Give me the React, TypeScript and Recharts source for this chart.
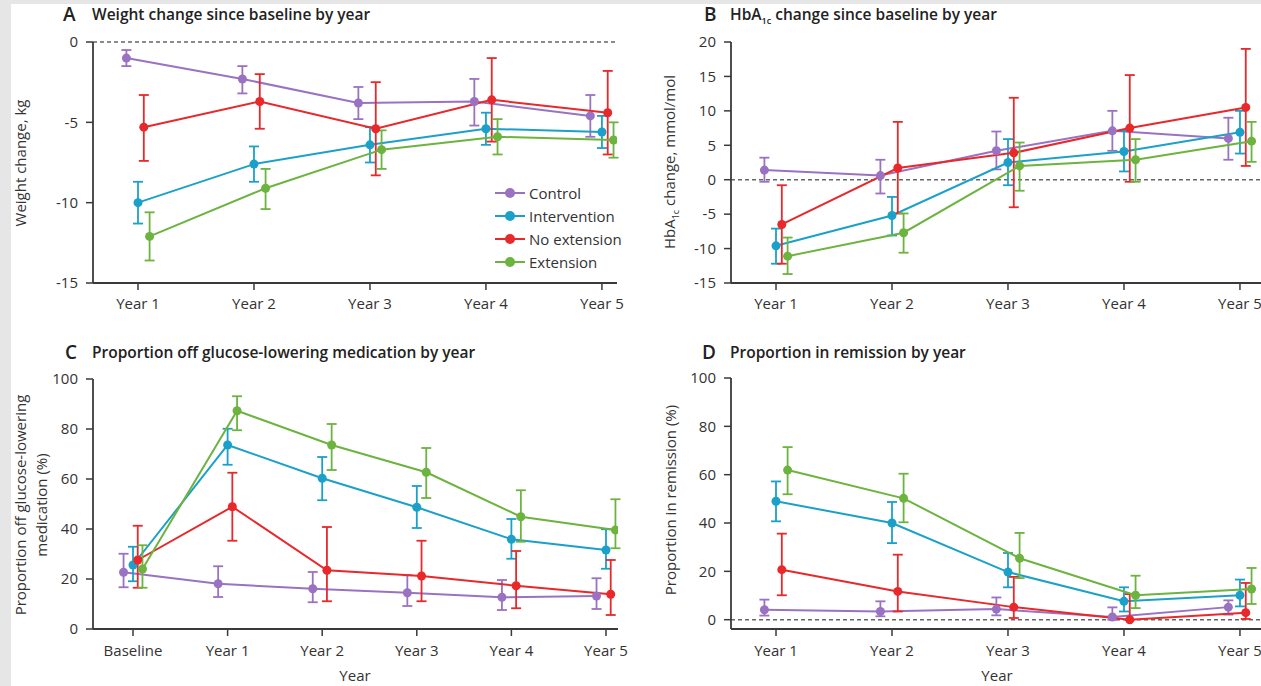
import React from 'react';
import { LineChart, Line, XAxis, YAxis, ErrorBar, ReferenceLine } from 'recharts';

const SERIES = ['Control', 'Intervention', 'No extension', 'Extension'];
const COLORS = ['#9a72c2', '#1ba1c9', '#e8282b', '#6cb33f'];
const DODGE = [-0.1, 0, 0.05, 0.1];

const yearsAB = [1, 2, 3, 4, 5];
const yearsC = [0, 1, 2, 3, 4, 5];
const yearLabels: Record<number, string> = { 0: 'Baseline', 1: 'Year 1', 2: 'Year 2', 3: 'Year 3', 4: 'Year 4', 5: 'Year 5' };

// [mean, lower CI, upper CI]
// Panel A: weight change (kg)
const weightControl = [[-1.0, -1.5, -0.5], [-2.3, -3.2, -1.5], [-3.8, -4.8, -2.8], [-3.7, -5.2, -2.3], [-4.6, -5.9, -3.3]];
const weightIntervention = [[-10.0, -11.3, -8.7], [-7.6, -8.7, -6.5], [-6.4, -7.5, -5.3], [-5.4, -6.4, -4.4], [-5.6, -6.6, -4.6]];
const weightNoExt = [[-5.3, -7.4, -3.3], [-3.7, -5.4, -2.0], [-5.4, -8.3, -2.5], [-3.6, -6.2, -1.0], [-4.4, -7.0, -1.8]];
const weightExt = [[-12.1, -13.6, -10.6], [-9.1, -10.4, -7.9], [-6.7, -7.9, -5.5], [-5.9, -7.0, -4.8], [-6.1, -7.2, -5.0]];

// Panel B: HbA1c change (mmol/mol)
const hbControl = [[1.4, -0.3, 3.2], [0.6, -2.0, 2.9], [4.2, 1.5, 7.0], [7.1, 4.2, 10.0], [6.0, 2.9, 9.0]];
const hbIntervention = [[-9.6, -12.2, -7.1], [-5.2, -8.1, -2.5], [2.5, -0.8, 5.9], [4.1, 1.2, 7.1], [6.9, 3.8, 10.0]];
const hbNoExt = [[-6.5, -12.2, -0.8], [1.7, -4.9, 8.4], [3.9, -4.0, 11.9], [7.5, -0.3, 15.2], [10.5, 2.0, 19.0]];
const hbExt = [[-11.1, -13.7, -8.4], [-7.7, -10.6, -4.9], [2.0, -1.6, 5.4], [2.9, -0.3, 5.9], [5.6, 2.6, 8.4]];

// Panel C: proportion off glucose-lowering medication (%)
const medControl = [[22.7, 16.7, 30.1], [18.1, 12.8, 25.1], [16.1, 10.7, 22.8], [14.5, 9.2, 21.5], [12.7, 7.6, 19.6], [13.2, 8.0, 20.3]];
const medIntervention = [[25.6, 19.1, 32.9], [73.6, 65.7, 80.1], [60.3, 51.5, 68.8], [48.7, 40.4, 57.2], [35.9, 28.1, 44.0], [31.6, 24.1, 39.9]];
const medNoExt = [[27.6, 16.5, 41.3], [48.9, 35.3, 62.5], [23.5, 11.1, 40.8], [21.2, 11.1, 35.3], [17.3, 8.3, 31.2], [13.9, 5.6, 27.6]];
const medExt = [[24.0, 16.5, 33.5], [87.3, 79.5, 93.1], [73.6, 63.6, 82.0], [62.7, 52.4, 72.4], [44.9, 34.9, 55.5], [39.6, 32.3, 51.9]];

// Panel D: proportion in remission (%)
const remControl = [[4.1, 1.7, 8.3], [3.4, 1.4, 7.6], [4.4, 1.8, 9.2], [1.1, 0, 5.1], [5.2, 2.1, 8.0]];
const remIntervention = [[49.0, 40.7, 57.2], [40.0, 31.7, 48.7], [19.7, 13.4, 27.6], [7.6, 3.4, 13.4], [10.1, 5.5, 16.6]];
const remNoExt = [[20.7, 10.1, 35.6], [11.7, 3.4, 26.9], [5.2, 0.7, 17.7], [0, 0, 10.6], [2.9, 0.3, 15.2]];
const remExt = [[61.9, 51.9, 71.4], [50.2, 40.3, 60.4], [25.4, 17.2, 35.9], [10.1, 4.8, 18.2], [12.7, 6.5, 21.4]];

const yTicksA = [0, -5, -10, -15];
const yTicksB = [20, 15, 10, 5, 0, -5, -10, -15];
const yTicksCD = [0, 20, 40, 60, 80, 100];

const FONT = '"Open Sans", "Noto Sans", sans-serif';
const AXIS = '#3a3a3a';
const TEXT = '#333';

function build(series: number[][][], years: number[]) {
  return series.map((vals, i) =>
    vals.map(([m, lo, hi], j) => ({ x: years[j] + DODGE[i], y: m, err: [m - lo, hi - m] }))
  );
}

const LegendBox = ({ left, top }: { left: number; top: number }) => (
  <div style={{ position: 'absolute', left, top, fontFamily: FONT, fontSize: 15, color: TEXT }}>
    {SERIES.map((s, i) => (
      <div key={s} style={{ display: 'flex', alignItems: 'center', height: 23 }}>
        <svg width={30} height={12} style={{ marginRight: 4 }}>
          <line x1={0} y1={6} x2={30} y2={6} stroke={COLORS[i]} strokeWidth={2} />
          <circle cx={15} cy={6} r={5} fill={COLORS[i]} />
        </svg>
        <span>{s}</span>
      </div>
    ))}
  </div>
);

type PanelProps = {
  left: number; top: number; width: number; height: number;
  margin: { top: number; right: number; bottom: number; left: number };
  yAxisWidth: number; xAxisHeight: number;
  xDomain: [number, number]; xTicks: number[];
  yDomain: [number, number]; yTicks: number[];
  data: { x: number; y: number; err: number[] }[][];
  zeroLine?: boolean; tickMarginX: number;
};

const Panel = (p: PanelProps) => (
  <div style={{ position: 'absolute', left: p.left, top: p.top }}>
    <LineChart width={p.width} height={p.height} margin={p.margin}>
      <XAxis
        type="number" dataKey="x" domain={p.xDomain} ticks={p.xTicks} allowDataOverflow
        tickFormatter={(v: number) => yearLabels[v]} height={p.xAxisHeight}
        axisLine={{ stroke: AXIS, strokeWidth: 1.8 }} tickLine={{ stroke: AXIS, strokeWidth: 1.5 }}
        tickSize={7} tickMargin={p.tickMarginX}
        tick={{ fill: TEXT, fontSize: 15, fontFamily: FONT }} interval={0}
      />
      <YAxis
        type="number" domain={p.yDomain} ticks={p.yTicks} allowDataOverflow width={p.yAxisWidth}
        axisLine={{ stroke: AXIS, strokeWidth: 1.8 }} tickLine={{ stroke: AXIS, strokeWidth: 1.5 }}
        tickSize={7} tickMargin={8} interval={0}
        tick={{ fill: TEXT, fontSize: 15, fontFamily: FONT }}
      />
      {p.zeroLine && <ReferenceLine y={0} stroke="#666" strokeDasharray="4 3" strokeWidth={1.5} />}
      {p.data.map((d, i) => (
        <Line
          key={SERIES[i]} name={SERIES[i]} data={d} dataKey="y" stroke={COLORS[i]} strokeWidth={2}
          dot={{ r: 4.5, fill: COLORS[i], stroke: COLORS[i], strokeWidth: 0 }} activeDot={false}
          isAnimationActive={false}
        >
          <ErrorBar dataKey="err" direction="y" width={5} stroke={COLORS[i]} strokeWidth={1.8} isAnimationActive={false} />
        </Line>
      ))}
    </LineChart>
  </div>
);

const Title = ({ letter, text, left, textLeft, cy }: { letter: string; text: React.ReactNode; left: number; textLeft: number; cy: number }) => (
  <>
    <div style={{ position: 'absolute', left, top: cy - 12, lineHeight: '24px', fontSize: 19, fontWeight: 600, color: '#222', fontFamily: FONT }}>{letter}</div>
    <div style={{ position: 'absolute', left: textLeft, top: cy - 12, lineHeight: '24px', fontSize: 15.5, fontWeight: 600, color: '#222', fontFamily: FONT, whiteSpace: 'nowrap' }}>{text}</div>
  </>
);

const VLabel = ({ cx, cy, w, children, lh = 20 }: { cx: number; cy: number; w: number; children: React.ReactNode; lh?: number }) => (
  <div style={{
    position: 'absolute', left: cx - w / 2, top: cy - 25, width: w, height: 50,
    display: 'flex', alignItems: 'center', justifyContent: 'center', textAlign: 'center',
    transform: 'rotate(-90deg)', fontSize: 15, lineHeight: `${lh}px`, color: TEXT, fontFamily: FONT, whiteSpace: 'nowrap',
  }}>{children}</div>
);

export default function App() {
  const dataA = build([weightControl, weightIntervention, weightNoExt, weightExt], yearsAB);
  const dataB = build([hbControl, hbIntervention, hbNoExt, hbExt], yearsAB);
  const dataC = build([medControl, medIntervention, medNoExt, medExt], yearsC);
  const dataD = build([remControl, remIntervention, remNoExt, remExt], yearsAB);

  return (
    <div style={{ position: 'absolute', left: 0, top: 0, width: 1261, height: 686, background: '#e6e6e6', overflow: 'hidden', fontFamily: FONT }}>
      <div style={{ position: 'absolute', left: 11, top: 4, right: 0, bottom: 0, background: '#fff' }} />

      <Title letter="A" text="Weight change since baseline by year" left={63} textLeft={92} cy={14} />
      <Title letter="B" text={<span>HbA<sub style={{ fontSize: 9 }}>1c</sub> change since baseline by year</span>} left={704} textLeft={730} cy={14} />
      <Title letter="C" text="Proportion off glucose-lowering medication by year" left={65} textLeft={92} cy={352} />
      <Title letter="D" text="Proportion in remission by year" left={702} textLeft={730} cy={352} />

      <VLabel cx={20} cy={163} w={200}>Weight change, kg</VLabel>
      <VLabel cx={672} cy={162} w={220}><span>HbA<sub style={{ fontSize: 9 }}>1c</sub> change, mmol/mol</span></VLabel>
      <VLabel cx={31} cy={505} w={260} lh={21}><span>Proportion off glucose-lowering<br />medication (%)</span></VLabel>
      <VLabel cx={670} cy={500} w={240}>Proportion in remission (%)</VLabel>

      <div style={{ position: 'absolute', left: 325, top: 665, width: 60, textAlign: 'center', fontSize: 15, lineHeight: '20px', color: TEXT }}>Year</div>
      <div style={{ position: 'absolute', left: 967, top: 665, width: 60, textAlign: 'center', fontSize: 15, lineHeight: '20px', color: TEXT }}>Year</div>

      <Panel left={0} top={0} width={640} height={330}
        margin={{ top: 42, right: 23, bottom: 17, left: 0 }} yAxisWidth={93} xAxisHeight={30}
        xDomain={[0.612, 5.13]} xTicks={yearsAB} yDomain={[-15, 0]} yTicks={yTicksA}
        data={dataA} zeroLine tickMarginX={8} />

      <LegendBox left={495} top={181} />

      <Panel left={640} top={0} width={640} height={330}
        margin={{ top: 42, right: 18, bottom: 17, left: 0 }} yAxisWidth={91} xAxisHeight={30}
        xDomain={[0.612, 5.19]} xTicks={yearsAB} yDomain={[-15, 20]} yTicks={yTicksB}
        data={dataB} zeroLine tickMarginX={8} />

      <Panel left={0} top={330} width={640} height={356}
        margin={{ top: 49, right: 22, bottom: 17, left: 0 }} yAxisWidth={93} xAxisHeight={40}
        xDomain={[-0.423, 5.127]} xTicks={yearsC} yDomain={[0, 100]} yTicks={yTicksCD}
        data={dataC} tickMarginX={9} />

      <Panel left={640} top={330} width={640} height={356}
        margin={{ top: 48, right: 18, bottom: 17, left: 0 }} yAxisWidth={91} xAxisHeight={40}
        xDomain={[0.612, 5.19]} xTicks={yearsAB} yDomain={[-3.85, 100]} yTicks={yTicksCD}
        data={dataD} zeroLine tickMarginX={9} />
    </div>
  );
}
